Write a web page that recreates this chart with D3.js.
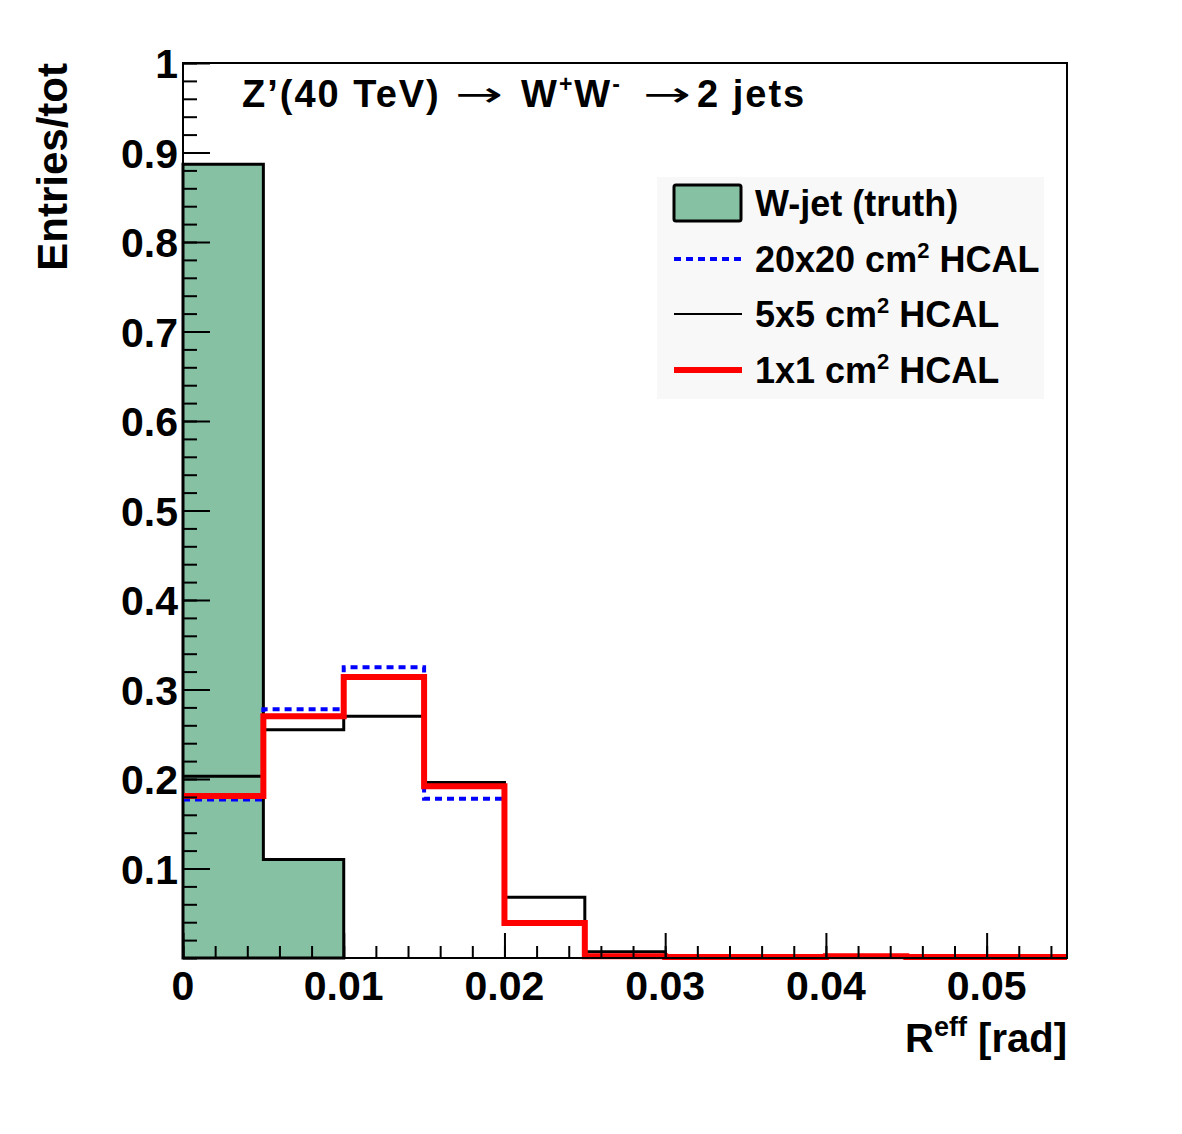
<!DOCTYPE html>
<html>
<head>
<meta charset="utf-8">
<script src="https://cdn.jsdelivr.net/npm/d3@7"></script>
<style>
  body { margin: 0; background: #fff; }
  text { font-family: 'Liberation Sans', Arial, sans-serif; font-weight: bold; fill: #000; }
</style>
</head>
<body>
<div id="chart"></div>
<script>
// bin lower edges, bin width 0.005 rad
var binLow   = [0, 0.005, 0.010, 0.015, 0.020, 0.025, 0.030, 0.035, 0.040, 0.045, 0.050]
var binWidth = 0.005

var truth  = [0.887, 0.110, 0,     0,     0,     0,     0,     0,     0,     0,     0]
var hcal20 = [0.177, 0.278, 0.325, 0.178, 0.040, 0.001, 0.001, 0.001, 0.001, 0.001, 0.001]
var hcal5  = [0.203, 0.255, 0.270, 0.196, 0.068, 0.007, 0.001, 0.001, 0.001, 0.001, 0.001]
var hcal1  = [0.181, 0.270, 0.314, 0.192, 0.039, 0.002, 0.001, 0.001, 0.002, 0.001, 0.001]

var xTicks = [0, 0.01, 0.02, 0.03, 0.04, 0.05]
var xTickLabels = ['0', '0.01', '0.02', '0.03', '0.04', '0.05']
var yTicks = [0.1, 0.2, 0.3, 0.4, 0.5, 0.6, 0.7, 0.8, 0.9, 1]
var yTickLabels = ['0.1', '0.2', '0.3', '0.4', '0.5', '0.6', '0.7', '0.8', '0.9', '1']

var legendNames = ['W-jet (truth)', '20x20 cm', '5x5 cm', '1x1 cm']

var W = 1182, H = 1134
var margin = {top: 63, right: 115, bottom: 176, left: 183}
var width  = W - margin.left - margin.right
var height = H - margin.top - margin.bottom

var svg = d3.select('#chart').append('svg').attr('width', W).attr('height', H)
var g = svg.append('g').attr('transform', 'translate(' + margin.left + ',' + margin.top + ')')

var x = d3.scaleLinear().domain([0, 0.055]).range([0, width])
var y = d3.scaleLinear().domain([0, 1]).range([height, 0])

// step outline of a histogram
function steps(vals) {
  var pts = []
  vals.forEach(function(v, i) {
    pts.push([binLow[i], v])
    pts.push([binLow[i] + binWidth, v])
  })
  return pts
}
var line = d3.line().x(function(d) { return x(d[0]) }).y(function(d) { return y(d[1]) })

// truth filled histogram
var truthPts = [[0, 0]].concat(steps(truth.slice(0, 2))).concat([[binLow[1] + binWidth, 0]])
g.append('path').attr('d', line(truthPts) + 'Z')
  .attr('fill', '#86c1a3').attr('stroke', '#000').attr('stroke-width', 3)

g.append('path').attr('d', line(steps(hcal5)))
  .attr('fill', 'none').attr('stroke', '#000').attr('stroke-width', 3)
g.append('path').attr('d', line(steps(hcal20)))
  .attr('fill', 'none').attr('stroke', '#0000ff').attr('stroke-width', 4).attr('stroke-dasharray', '7,5')
g.append('path').attr('d', line(steps(hcal1)))
  .attr('fill', 'none').attr('stroke', '#ff0000').attr('stroke-width', 6)

// frame
g.append('rect').attr('width', width).attr('height', height)
  .attr('fill', 'none').attr('stroke', '#000').attr('stroke-width', 2)

// axes
var yMinor = d3.range(0, 1.0001, 0.02)
g.append('g').call(d3.axisRight(y).tickValues(yMinor).tickSize(14).tickFormat(''))
  .call(function(a) { a.select('.domain').remove(); a.selectAll('line').attr('stroke-width', 2) })
g.append('g').call(d3.axisRight(y).tickValues(yTicks).tickSize(27).tickFormat(''))
  .call(function(a) { a.select('.domain').remove(); a.selectAll('line').attr('stroke-width', 2) })
g.selectAll('.ylab').data(yTicks).enter().append('text')
  .attr('class', 'ylab')
  .attr('x', -5).attr('y', function(d) { return y(d) + 15 })
  .attr('text-anchor', 'end').style('font-size', '41px')
  .text(function(d, i) { return yTickLabels[i] })

var xMinor = d3.range(0, 0.0551, 0.002)
g.append('g').attr('transform', 'translate(0,' + height + ')')
  .call(d3.axisTop(x).tickValues(xMinor).tickSize(12).tickFormat(''))
  .call(function(a) { a.select('.domain').remove(); a.selectAll('line').attr('stroke-width', 2) })
g.append('g').attr('transform', 'translate(0,' + height + ')')
  .call(d3.axisTop(x).tickValues(xTicks).tickSize(25).tickFormat(''))
  .call(function(a) { a.select('.domain').remove(); a.selectAll('line').attr('stroke-width', 2) })
g.selectAll('.xlab').data(xTicks).enter().append('text')
  .attr('class', 'xlab')
  .attr('x', function(d) { return x(d) }).attr('y', height + 42)
  .attr('text-anchor', 'middle').style('font-size', '41px')
  .text(function(d, i) { return xTickLabels[i] })

// axis titles
var xt = svg.append('text').attr('x', margin.left + width).attr('y', 1052)
  .attr('text-anchor', 'end').style('font-size', '40px')
xt.append('tspan').text('R')
xt.append('tspan').attr('dy', -16).style('font-size', '27px').text('eff')
xt.append('tspan').attr('dy', 16).text(' [rad]')

svg.append('text').attr('transform', 'translate(67,63) rotate(-90)')
  .attr('text-anchor', 'end').style('font-size', '42px').text('Entries/tot')

// title, placed piece by piece
var title = svg.append('g').style('letter-spacing', '2px')
title.append('text').attr('x', 242).attr('y', 107).style('font-size', '38px').text('Z\u2019(40 TeV)')
var ww = title.append('text').attr('x', 521).attr('y', 107).style('font-size', '38px')
ww.append('tspan').text('W')
ww.append('tspan').attr('dy', -15).style('font-size', '23px').text('+')
ww.append('tspan').attr('dy', 15).text('W')
ww.append('tspan').attr('dy', -15).style('font-size', '23px').text('-')
title.append('text').attr('x', 697).attr('y', 107).style('font-size', '38px').text('2 jets')
;[455, 643].forEach(function(ax) {
  title.append('text').attr('x', ax).attr('y', 106).style('font-size', '34px')
    .style('font-weight', 'normal').style('font-family', 'DejaVu Sans').style('letter-spacing', '0px')
    .attr('textLength', 48).attr('lengthAdjust', 'spacingAndGlyphs').text('\u2192')
})

// legend
var leg = svg.append('g')
leg.append('rect').attr('x', 657).attr('y', 177).attr('width', 387).attr('height', 222).attr('fill', '#f8f8f8')
var rowY = [203, 259, 314, 370]
leg.append('rect').attr('x', 674).attr('y', 185).attr('width', 67).attr('height', 36).attr('rx', 2)
  .attr('fill', '#86c1a3').attr('stroke', '#000').attr('stroke-width', 3)
var legStyles = [null,
  {c: '#0000ff', w: 4, d: '7,5'},
  {c: '#000', w: 2, d: null},
  {c: '#ff0000', w: 6, d: null}]
legStyles.forEach(function(s, i) {
  if (!s) return
  leg.append('line').attr('x1', 674).attr('x2', 742).attr('y1', rowY[i]).attr('y2', rowY[i])
    .attr('stroke', s.c).attr('stroke-width', s.w).attr('stroke-dasharray', s.d)
})
legendNames.forEach(function(n, i) {
  var t = leg.append('text').attr('x', 755).attr('y', rowY[i] + 13).style('font-size', '36px')
  t.append('tspan').text(n)
  if (i > 0) {
    t.append('tspan').attr('dy', -14).style('font-size', '22px').text('2')
    t.append('tspan').attr('dy', 14).text(' HCAL')
  }
})
</script>
</body>
</html>
